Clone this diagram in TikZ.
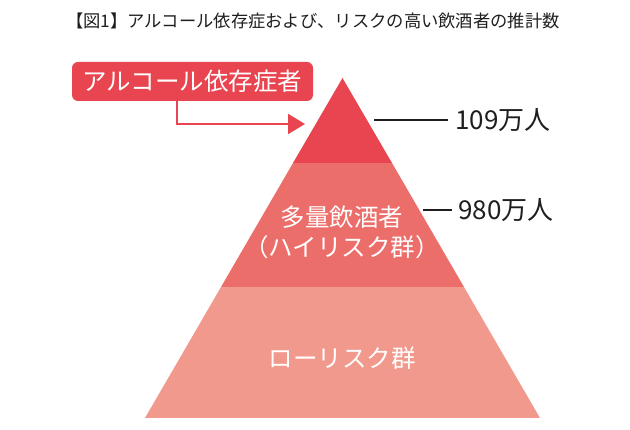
\documentclass[tikz,border=0pt]{standalone}
\usepackage{fontspec}
\usetikzlibrary{arrows.meta,positioning}
\newfontfamily\jp{Noto Sans CJK JP}

\definecolor{topred}{HTML}{E84550}
\definecolor{midred}{HTML}{EC6E6B}
\definecolor{lowred}{HTML}{F1998C}
\definecolor{inktext}{HTML}{1E1E1E}

\tikzset{
    layer/.style={draw=none},
    bandtext/.style={text=white,align=center,font=\jp\fontsize{24.5pt}{30pt}\selectfont},
    countline/.style={draw=inktext,line width=1.4pt},
    count/.style={anchor=west,text=inktext,inner sep=0pt,font=\jp\fontsize{26pt}{30pt}\selectfont},
    pointer/.style={draw=topred,line width=2pt,-{Triangle[width=20pt,length=17pt]}}
}

\begin{document}
\begin{tikzpicture}[x=1pt,y=-1pt]
        \tikzstyle{every node}=[font=\jp]
        \useasboundingbox (0,0) rectangle (630,430);

        % title
        \node[text=inktext,font=\jp\fontsize{17.3pt}{20pt}\selectfont] (title) at (313,21)
            {【図1】アルコール依存症および、リスクの高い飲酒者の推計数};

        % pyramid
        \coordinate (apex) at (342.5,78);
        \coordinate (bl) at (145,418);
        \coordinate (br) at (540,418);
        \fill[lowred] (221,287) -- (464,287) -- (br) -- (bl) -- cycle;
        \fill[midred] (293,163) -- (392,163) -- (464,287) -- (221,287) -- cycle;
        \fill[topred] (apex) -- (392,163) -- (293,163) -- cycle;

        \node[bandtext] (heavy) at (342,232) {多量飲酒者\\（ハイリスク群）};
        \node[bandtext] (low) at (342,358) {ローリスク群};

        % counts
        \coordinate (c1) at (374,120);
        \node[count] (n1) at (455,120) {109万人};
        \draw[countline] (c1) -- ([xshift=-7pt]n1.west);
        \coordinate (c2) at (423,210);
        \node[count] (n2) at (458,210) {980万人};
        \draw[countline] (c2) -- ([xshift=-6pt]n2.west);

        % label box
        \node[fill=topred,text=white,rounded corners=6pt,minimum width=241pt,minimum height=39pt,
            inner sep=0pt,font=\jp\fontsize{24.5pt}{30pt}\selectfont] (box) at (192.5,81.5) {アルコール依存症者};
        \coordinate (tip) at (305,124);
        \draw[pointer] ([xshift=105pt]box.south west) |- (tip);
    \end{tikzpicture}
\end{document}
